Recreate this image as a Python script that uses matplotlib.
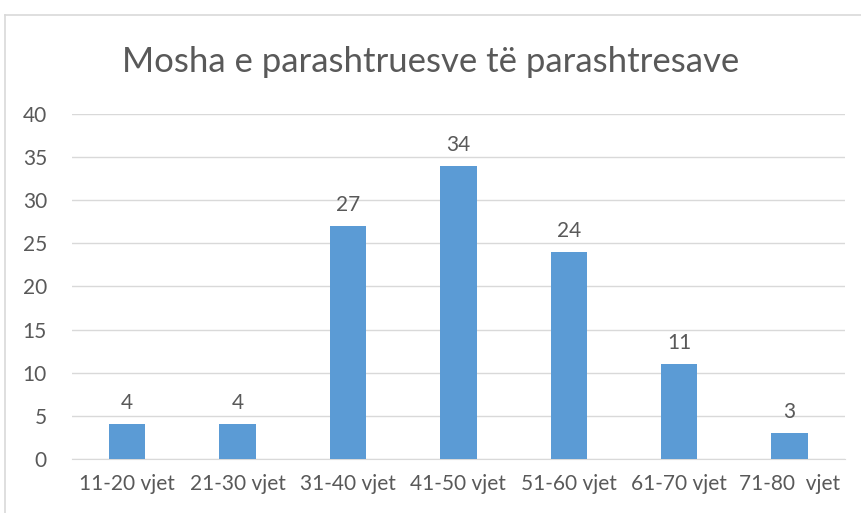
import matplotlib.pyplot as plt
from matplotlib.lines import Line2D

categories = ["11-20 vjet", "21-30 vjet", "31-40 vjet", "41-50 vjet",
              "51-60 vjet", "61-70 vjet", "71-80  vjet"]
values = [4, 4, 27, 34, 24, 11, 3]
y_ticks = [0, 5, 10, 15, 20, 25, 30, 35, 40]

text_color = "#595959"
plt.rcParams['font.family'] = ['Lato', 'DejaVu Sans']

fig = plt.figure(figsize=(8.62, 5.13), dpi=100)
ax = fig.add_axes([0.0835, 0.1053, 0.8965, 0.6725])

x = range(len(categories))
bars = ax.bar(x, values, width=0.33, color="#5B9BD5", zorder=3)

for bar, val in zip(bars, values):
    ax.text(bar.get_x() + bar.get_width() / 2, val + 1.3, str(val),
            ha='center', va='bottom', fontsize=15, color=text_color)

ax.set_xlim(-0.5, len(categories) - 0.5)
ax.set_ylim(0, 40)
ax.set_yticks(y_ticks)
ax.set_xticks(list(x))
ax.set_xticklabels(categories)
ax.tick_params(axis='both', length=0, labelsize=15, labelcolor=text_color)
ax.tick_params(axis='x', pad=11)
ax.tick_params(axis='y', pad=18)
ax.grid(axis='y', color="#D9D9D9", linewidth=1, zorder=0)
for side in ['top', 'right', 'left']:
    ax.spines[side].set_visible(False)
ax.spines['bottom'].set_color("#D9D9D9")

fig.text(0.5, 0.879, "Mosha e parashtruesve të parashtresave", ha='center',
         va='center', fontsize=25, color=text_color)

# chart border
fig.add_artist(Line2D([5 / 862, 1], [1 - 15 / 513, 1 - 15 / 513], color="#D9D9D9", lw=1.2))
fig.add_artist(Line2D([5 / 862, 5 / 862], [0, 1 - 15 / 513], color="#D9D9D9", lw=1.2))

fig.savefig("out.png", dpi=100)
